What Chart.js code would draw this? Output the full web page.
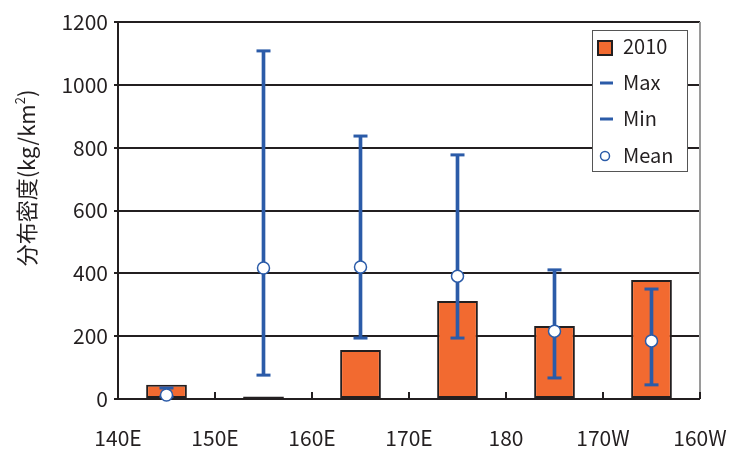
<!DOCTYPE html>
<html>
<head>
<meta charset="utf-8">
<script src="https://cdn.jsdelivr.net/npm/chart.js@4"></script>
<style>
  html, body { margin: 0; padding: 0; background: #fff; }
  #wrap { width: 740px; height: 454px; }
</style>
</head>
<body>
<div id="wrap"><canvas id="myChart"></canvas></div>
<script>
const categories = ['145E', '155E', '165E', '175E', '175W', '165W'];
const tickLabels = ['140E', '150E', '160E', '170E', '180', '170W', '160W'];
const values2010 = [45, 8, 156, 312, 232, 379];
const maxVals = [35, 1108, 837, 777, 411, 350];
const minVals = [8, 76, 194, 194, 67, 45];
const meanVals = [13, 417, 420, 391, 216, 185];

const orange = '#F26A30';
const blue = '#2B5BA8';
const ink = '#231F20';
const font = '"Noto Sans CJK JP", "Noto Sans", sans-serif';

// legend box, y title, inner x ticks, right border
const extras = {
    id: 'extras',
    afterDraw(chart) {
        const ctx = chart.ctx;
        const area = chart.chartArea;
        const xl = chart.scales.xl;
        ctx.save();

        // right border
        ctx.strokeStyle = '#9a9a9a';
        ctx.lineWidth = 2;
        ctx.beginPath();
        ctx.moveTo(area.right, area.top);
        ctx.lineTo(area.right, area.bottom);
        ctx.stroke();

        // inner x ticks
        ctx.strokeStyle = ink;
        ctx.lineWidth = 2;
        for (let i = 1; i < tickLabels.length; i++) {
            const x = xl.getPixelForValue(i);
            ctx.beginPath();
            ctx.moveTo(x, area.bottom);
            ctx.lineTo(x, area.bottom - 7);
            ctx.stroke();
        }

        // y title
        ctx.translate(27, 178);
        ctx.rotate(-Math.PI / 2);
        ctx.fillStyle = ink;
        ctx.textBaseline = 'middle';
        const part1 = '分布密度(kg/km';
        ctx.font = '22px ' + font;
        const w1 = ctx.measureText(part1).width;
        ctx.font = '13px ' + font;
        const w2 = ctx.measureText('2').width;
        ctx.font = '22px ' + font;
        const w3 = ctx.measureText(')').width;
        let x0 = -(w1 + w2 + w3) / 2;
        ctx.fillText(part1, x0, 0);
        ctx.font = '13px ' + font;
        ctx.fillText('2', x0 + w1, -7);
        ctx.font = '22px ' + font;
        ctx.fillText(')', x0 + w1 + w2, 0);
        ctx.setTransform(1, 0, 0, 1, 0, 0);

        // legend
        ctx.fillStyle = '#fff';
        ctx.fillRect(592, 30, 95, 141);
        ctx.strokeStyle = '#555';
        ctx.lineWidth = 1;
        ctx.strokeRect(592.5, 30.5, 95, 141);

        ctx.fillStyle = orange;
        ctx.fillRect(598, 41, 14, 14);
        ctx.strokeStyle = ink;
        ctx.lineWidth = 2;
        ctx.strokeRect(598, 41, 14, 14);

        ctx.strokeStyle = blue;
        ctx.lineWidth = 3;
        ctx.beginPath();
        ctx.moveTo(600, 83); ctx.lineTo(613, 83);
        ctx.moveTo(600, 119); ctx.lineTo(613, 119);
        ctx.stroke();

        ctx.fillStyle = '#fff';
        ctx.lineWidth = 1.5;
        ctx.beginPath();
        ctx.arc(605, 156, 4.5, 0, Math.PI * 2);
        ctx.fill();
        ctx.stroke();

        ctx.fillStyle = ink;
        ctx.font = '20px ' + font;
        ctx.textBaseline = 'middle';
        ctx.fillText('2010', 623, 46);
        ctx.fillText('Max', 623, 82);
        ctx.fillText('Min', 623, 118);
        ctx.fillText('Mean', 623, 155);
        ctx.restore();
    }
};

const config = {
    type: 'bar',
    data: {
        labels: categories,
        datasets: [
            {
                label: '2010',
                data: values2010,
                backgroundColor: orange,
                borderColor: ink,
                borderWidth: 2,
                borderSkipped: false,
                grouped: false,
                categoryPercentage: 1,
                barPercentage: 0.42,
                order: 4
            },
            {
                label: 'range',
                data: minVals.map((v, i) => [v, maxVals[i]]),
                backgroundColor: blue,
                borderWidth: 0,
                grouped: false,
                barThickness: 3,
                order: 3
            },
            {
                type: 'line',
                label: 'Max',
                data: maxVals,
                showLine: false,
                pointStyle: 'line',
                pointRadius: 7,
                pointBorderWidth: 3,
                pointBorderColor: blue,
                clip: false,
                order: 2
            },
            {
                type: 'line',
                label: 'Min',
                data: minVals,
                showLine: false,
                pointStyle: 'line',
                pointRadius: 7,
                pointBorderWidth: 3,
                pointBorderColor: blue,
                clip: false,
                order: 2
            },
            {
                type: 'line',
                label: 'Mean',
                data: meanVals,
                showLine: false,
                pointStyle: 'circle',
                pointRadius: 6,
                pointBorderWidth: 1.5,
                pointBorderColor: blue,
                pointBackgroundColor: '#fff',
                clip: false,
                order: 1
            }
        ]
    },
    options: {
        responsive: true,
        maintainAspectRatio: false,
        animation: false,
        layout: { padding: { top: 22, right: 40, left: 0, bottom: 0 } },
        plugins: {
            legend: { display: false },
            tooltip: { enabled: false }
        },
        scales: {
            x: {
                display: false,
                offset: true
            },
            xl: {
                type: 'linear',
                position: 'bottom',
                min: 0,
                max: 6,
                offset: false,
                afterFit(scale) {
                    scale.height = 55;
                    scale.paddingLeft = 0;
                    scale.paddingRight = 0;
                },
                grid: { offset: false, drawOnChartArea: false, drawTicks: false },
                border: { display: false },
                ticks: {
                    stepSize: 1,
                    autoSkip: false,
                    maxRotation: 0,
                    padding: 26,
                    color: ink,
                    font: { size: 21, family: font },
                    callback: (v) => tickLabels[v]
                }
            },
            y: {
                min: 0,
                max: 1200,
                afterFit(scale) { scale.width = 118; },
                border: { display: true, color: ink, width: 2 },
                grid: { color: ink, lineWidth: 2, tickLength: 4 },
                ticks: {
                    stepSize: 200,
                    padding: 6,
                    color: ink,
                    font: { size: 21, family: font },
                    callback: (v) => String(v)
                }
            }
        }
    },
    plugins: [extras]
};

const myChart = new Chart(document.getElementById('myChart'), config);
</script>
</body>
</html>
